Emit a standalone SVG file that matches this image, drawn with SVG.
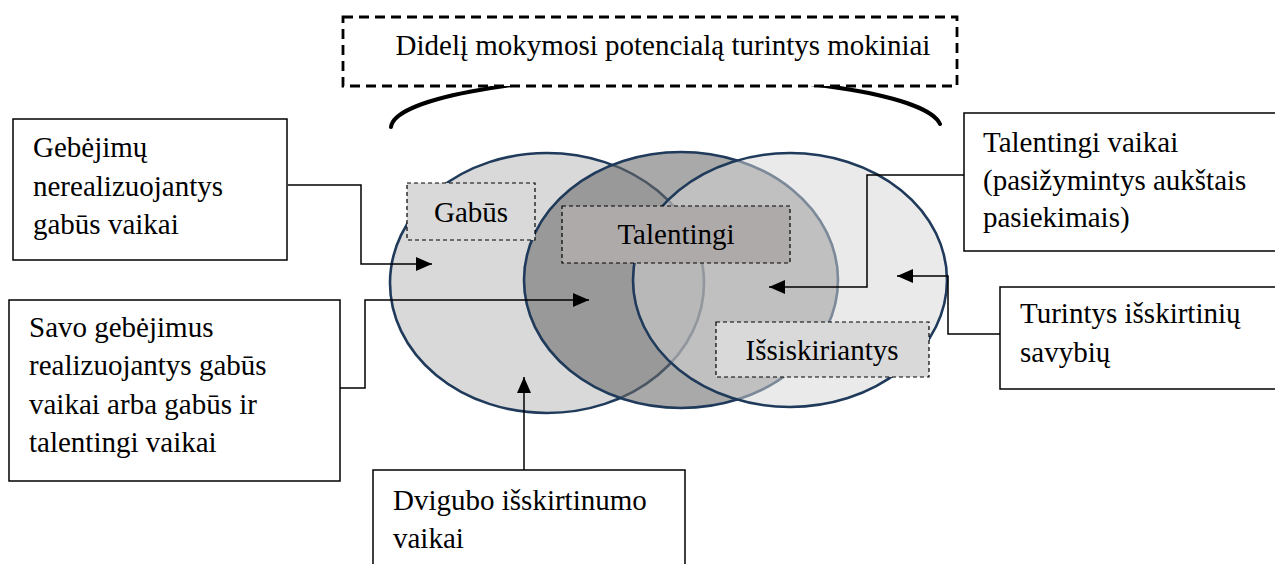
<svg xmlns="http://www.w3.org/2000/svg" width="1275" height="564" viewBox="0 0 1275 564">
  <style>
    .t { font-family: "Liberation Serif", "Times New Roman", serif; font-size: 29px; fill: #000; }
    .box { fill: #fff; stroke: #000; stroke-width: 1.5; }
    .lbl { stroke: #000; stroke-width: 1.2; stroke-dasharray: 4 3; }
    .ell { stroke: #1f3a5a; stroke-width: 2.6; }
    .conn { fill: none; stroke: #000; stroke-width: 1.5; }
  </style>
  <defs>
    <marker id="ah" markerUnits="userSpaceOnUse" markerWidth="17" markerHeight="14" refX="16" refY="7" orient="auto">
      <path d="M0,0 L16,7 L0,14 z" fill="#000"/>
    </marker>
  </defs>
  <rect width="1275" height="564" fill="#fff"/>

  <g id="venn">
    <ellipse id="ell-gabus" class="ell" cx="547" cy="283" rx="157" ry="130" fill="#d9d9d9"/>
    <ellipse id="ell-talentingi" class="ell" cx="681" cy="280" rx="157" ry="128" fill="#6b6b6b" fill-opacity="0.58"/>
    <ellipse id="ell-issiskiriantys" class="ell" cx="790" cy="280" rx="157" ry="127" fill="#d6d6d6" fill-opacity="0.51"/>
  </g>

  <g id="label-gabus">
    <rect class="lbl" x="407" y="183" width="128" height="57" fill="#d9d9d9"/>
    <text class="t" x="471" y="222" text-anchor="middle">Gabūs</text>
  </g>
  <g id="label-talentingi">
    <rect class="lbl" x="562" y="206" width="228" height="57" fill="#aeaaaa"/>
    <text class="t" x="676" y="244" text-anchor="middle">Talentingi</text>
  </g>
  <g id="label-issiskiriantys">
    <rect class="lbl" x="716" y="322" width="213" height="55" fill="#d9d9d9"/>
    <text class="t" x="822" y="360" text-anchor="middle">Išsiskiriantys</text>
  </g>

  <g id="connectors">
    <path id="arc" d="M391,127 A275,52 0 0 1 940,124" fill="none" stroke="#000" stroke-width="4" stroke-linecap="round"/>
    <polyline class="conn" points="288,185 361,185 361,264 432,264" marker-end="url(#ah)"/>
    <polyline class="conn" points="340,388 365,388 365,300 589,300" marker-end="url(#ah)"/>
    <polyline class="conn" points="524,470 524,377" marker-end="url(#ah)"/>
    <polyline class="conn" points="964,175 867,175 867,287 769,287" marker-end="url(#ah)"/>
    <polyline class="conn" points="1000,334 948,334 948,276 897,276" marker-end="url(#ah)"/>
  </g>

  <g id="title">
    <rect x="343" y="17" width="614" height="69" fill="#fff" stroke="#000" stroke-width="2.8" stroke-dasharray="10 6"/>
    <text class="t" x="663" y="55" text-anchor="middle">Didelį mokymosi potencialą turintys mokiniai</text>
  </g>

  <g id="box-nerealizuojantys">
    <rect class="box" x="13" y="119" width="274" height="141"/>
    <text class="t" x="33" y="157">Gebėjimų</text>
    <text class="t" x="33" y="196">nerealizuojantys</text>
    <text class="t" x="33" y="234">gabūs vaikai</text>
  </g>

  <g id="box-realizuojantys">
    <rect class="box" x="9" y="300" width="331" height="181"/>
    <text class="t" x="29" y="337">Savo gebėjimus</text>
    <text class="t" x="29" y="375">realizuojantys gabūs</text>
    <text class="t" x="29" y="414">vaikai arba gabūs ir</text>
    <text class="t" x="29" y="452">talentingi vaikai</text>
  </g>

  <g id="box-dvigubo">
    <rect class="box" x="373" y="470" width="312" height="110"/>
    <text class="t" x="393" y="510">Dvigubo išskirtinumo</text>
    <text class="t" x="393" y="548">vaikai</text>
  </g>

  <g id="box-talentingi-vaikai">
    <rect class="box" x="964" y="113" width="330" height="138"/>
    <text class="t" x="983" y="152">Talentingi vaikai</text>
    <text class="t" x="983" y="190">(pasižymintys aukštais</text>
    <text class="t" x="983" y="227">pasiekimais)</text>
  </g>

  <g id="box-turintys">
    <rect class="box" x="1000" y="287" width="300" height="102"/>
    <text class="t" x="1020" y="323">Turintys išskirtinių</text>
    <text class="t" x="1020" y="362">savybių</text>
  </g>
</svg>
